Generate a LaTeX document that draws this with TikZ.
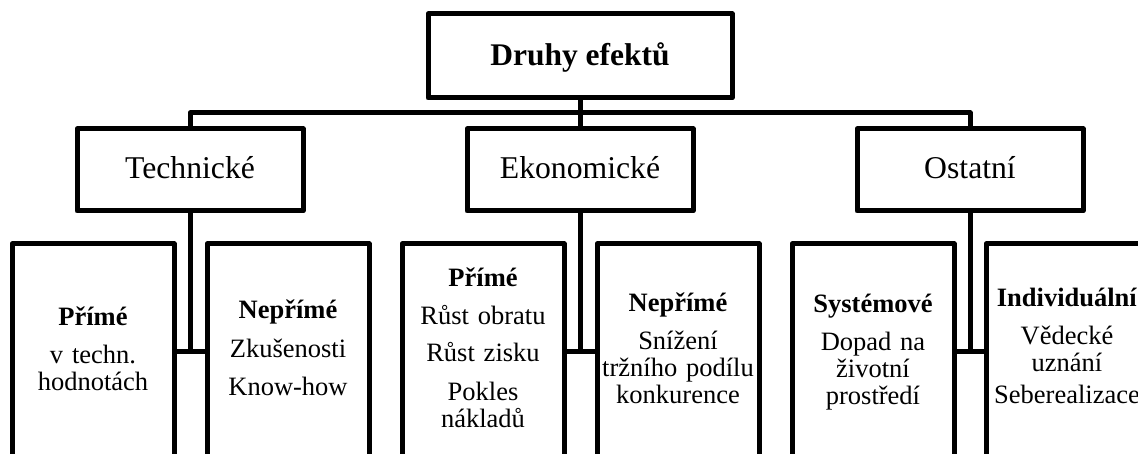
\documentclass[tikz,border=0pt]{standalone}
\usepackage{fontspec}
\setmainfont{Liberation Serif}
\begin{document}
\begin{tikzpicture}[x=1pt,y=-1pt,line width=5pt,line join=round,
  box/.style={draw,line width=5pt,inner sep=0pt,outer sep=0pt},
  midbox/.style={box,minimum width=226pt,minimum height=82pt},
  lowbox/.style={box,minimum width=162pt,minimum height=236pt},
  toptext/.style={anchor=base,inner sep=0pt,font=\fontsize{31.5}{33}\selectfont\bfseries},
  midtext/.style={anchor=base,inner sep=0pt,font=\fontsize{31.7}{33}\selectfont},
  lowtext/.style={anchor=base,inner sep=0pt,font=\fontsize{26.5}{27}\selectfont,align=center,text width=170pt}]
\useasboundingbox (0,0) rectangle (1138,454);
\clip (0,0) rectangle (1138,454);
% boxes
\node[box,minimum width=304pt,minimum height=84pt] (root) at (580,56) {};
\node[midbox] (tech) at (190,170) {};
\node[midbox] (econ) at (580,170) {};
\node[midbox] (ost) at (970,170) {};
\node[lowbox] (l1) at (93,362) {};
\node[lowbox] (l2) at (288,362) {};
\node[lowbox] (l3) at (483,362) {};
\node[lowbox] (l4) at (678,362) {};
\node[lowbox] (l5) at (873,362) {};
\node[lowbox] (l6) at (1067,362) {};
% texts
\node[toptext] (troot) at (580,66) {Druhy efektů};
\node[midtext] (ttech) at (190,179) {Technické};
\node[midtext] (tecon) at (580,179) {Ekonomické};
\node[midtext] (tost) at (970,179) {Ostatní};
\node[lowtext] (t1) at (93,326) {\textbf{Přímé}\\[11pt]v techn.\\hodnotách};
\node[lowtext] (t2) at (288,319) {\textbf{Nepřímé}\\[12pt]Zkušenosti\\[11pt]Know-how};
\node[lowtext] (t3) at (483,287) {\textbf{Přímé}\\[11pt]Růst obratu\\[10pt]Růst zisku\\[12pt]Pokles\\nákladů};
\node[lowtext] (t4) at (678,312) {\textbf{Nepřímé}\\[11pt]Snížení\\tržního podílu\\konkurence};
\node[lowtext] (t5) at (873,313) {\textbf{Systémové}\\[11pt]Dopad na\\životní\\prostředí};
\node[lowtext] (t6) at (1067,307) {\textbf{Individuální}\\[11pt]Vědecké\\uznání\\[5pt]Seberealizace};
% connectors
\coordinate (bus) at (580,113);
\coordinate (join) at (580,351);
\draw (root.south) -- (econ.north);
\draw (tech.north) -- (tech.north |- bus) -- (ost.north |- bus) -- (ost.north);
\draw (tech.south) -- (tech.south |- join);
\draw (l1.east |- join) -- (l2.west |- join);
\draw (econ.south) -- (econ.south |- join);
\draw (l3.east |- join) -- (l4.west |- join);
\draw (ost.south) -- (ost.south |- join);
\draw (l5.east |- join) -- (l6.west |- join);
\end{tikzpicture}
\end{document}
